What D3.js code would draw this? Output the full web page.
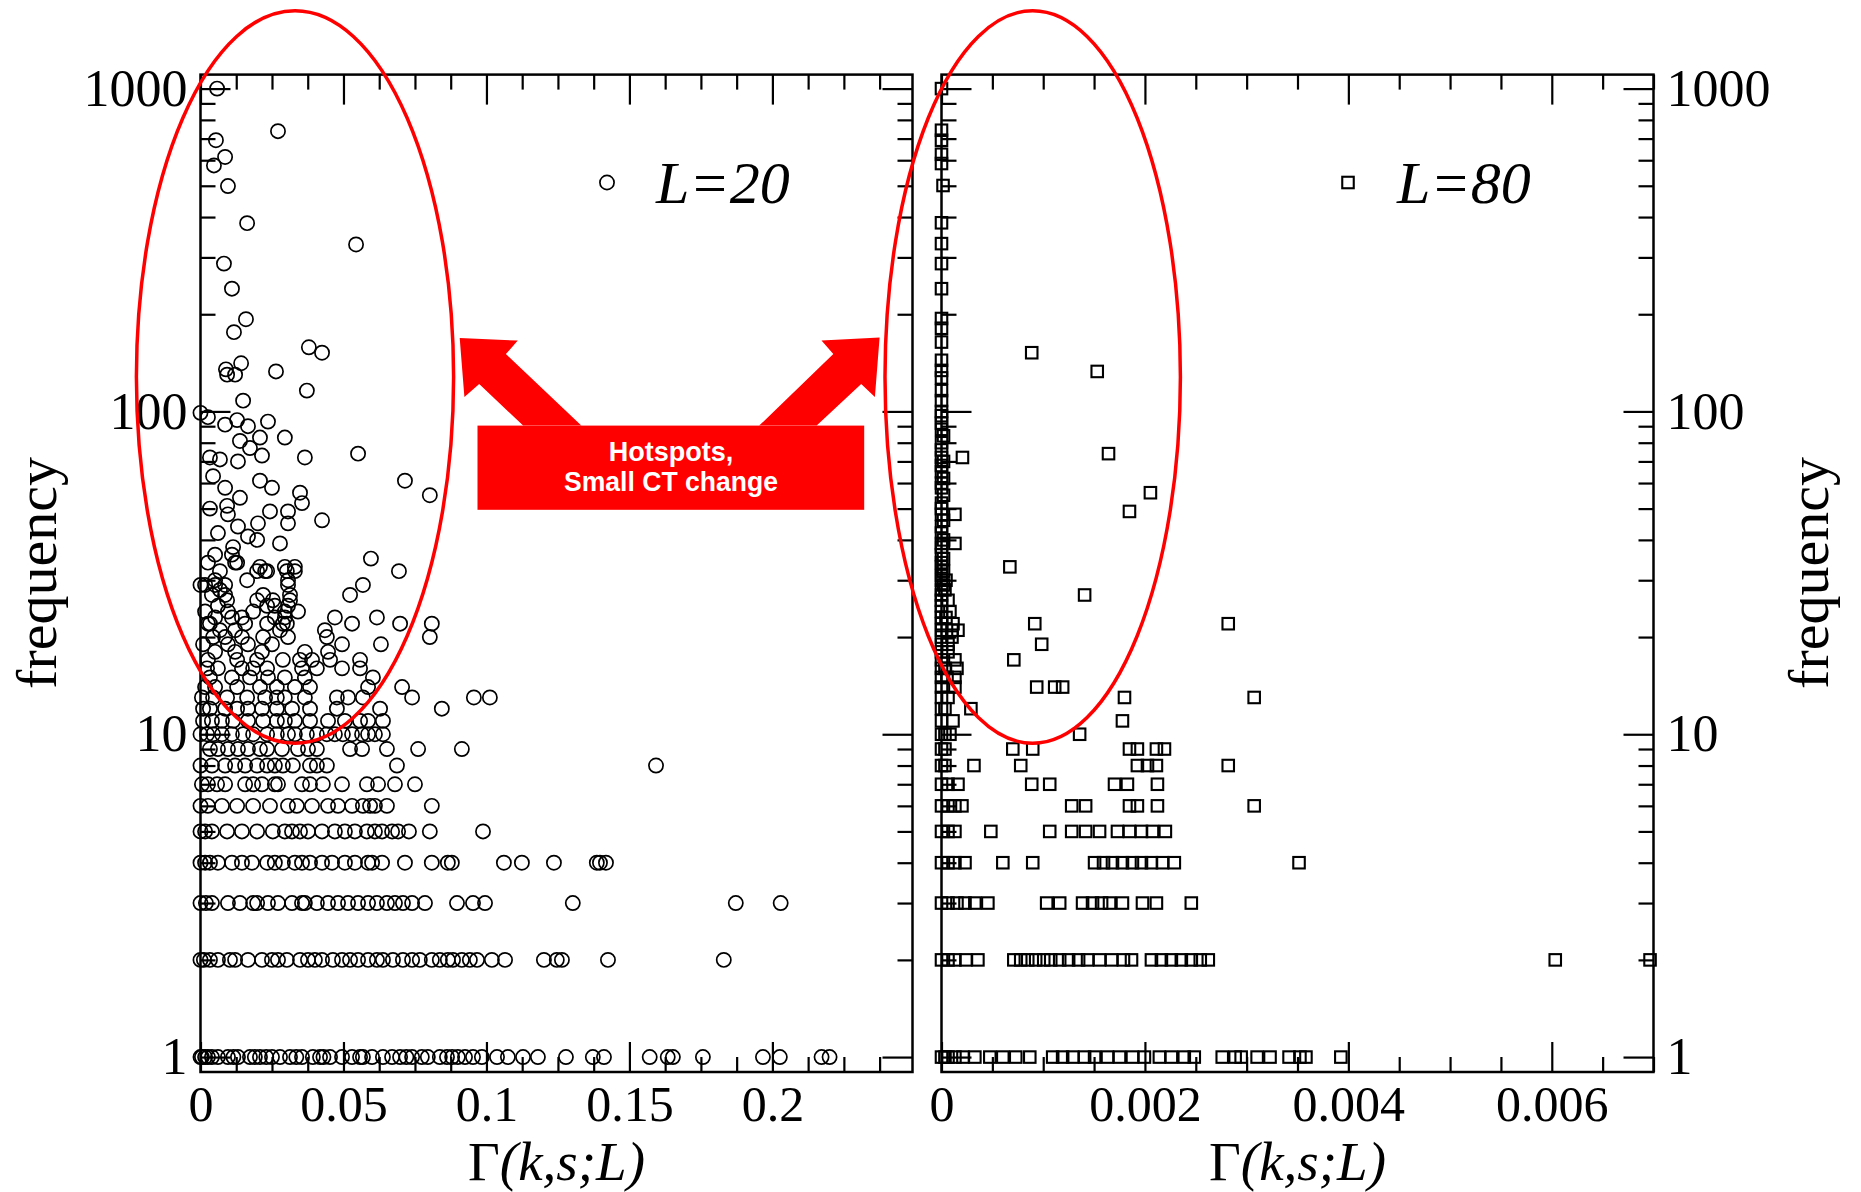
<!DOCTYPE html>
<html>
<head>
<meta charset="utf-8">
<script src="https://cdn.jsdelivr.net/npm/d3@7"></script>
<style>
  body { margin: 0; background: #fff; }
</style>
</head>
<body>
<div id="chart"></div>
<script>
// ---- data ----
const yTickMajor = [1, 10, 100, 1000];
const l20TickMajor = [0, 0.05, 0.1, 0.15, 0.2];
const l20TickLabels = ["0", "0.05", "0.1", "0.15", "0.2"];
const l80TickMajor = [0, 0.002, 0.004, 0.006];
const l80TickLabels = ["0", "0.002", "0.004", "0.006"];

// L=20 : [frequency, [Gamma values]]
const l20Rows = [
  [1, [0, 0.0005, 0.0016, 0.0026, 0.004, 0.0061, 0.0096, 0.0115, 0.0131, 0.0173, 0.019, 0.0208, 0.023, 0.025, 0.0278, 0.0313, 0.0335, 0.0355, 0.0393, 0.0418, 0.043, 0.0453, 0.0495, 0.053, 0.0558, 0.0568, 0.06, 0.0638, 0.067, 0.0698, 0.072, 0.074, 0.0774, 0.0795, 0.0837, 0.0862, 0.088, 0.09, 0.0925, 0.0953, 0.0984, 0.1037, 0.1075, 0.1128, 0.118, 0.1278, 0.1372, 0.1411, 0.1571, 0.1634, 0.1652, 0.1757, 0.1967, 0.2026, 0.2172, 0.22]],
  [2, [0, 0.0012, 0.0033, 0.0061, 0.0103, 0.0121, 0.0166, 0.0215, 0.025, 0.0271, 0.0302, 0.0348, 0.0376, 0.04, 0.0425, 0.0463, 0.0495, 0.0523, 0.0551, 0.0586, 0.0617, 0.0638, 0.0673, 0.0708, 0.074, 0.0767, 0.0809, 0.0837, 0.0865, 0.0883, 0.0914, 0.0942, 0.0967, 0.1019, 0.1065, 0.1201, 0.1246, 0.1264, 0.1425, 0.183]],
  [3, [0, 0.0019, 0.004, 0.0096, 0.0138, 0.0184, 0.0198, 0.0236, 0.0271, 0.032, 0.0355, 0.0365, 0.0407, 0.0446, 0.0481, 0.0516, 0.0551, 0.0586, 0.0617, 0.0652, 0.068, 0.0708, 0.074, 0.0785, 0.0897, 0.0953, 0.0995, 0.1302, 0.1872, 0.2029]],
  [4, [0, 0.0016, 0.0033, 0.0061, 0.011, 0.0145, 0.018, 0.0233, 0.026, 0.0288, 0.033, 0.0355, 0.0383, 0.0425, 0.046, 0.0505, 0.054, 0.0586, 0.06, 0.0635, 0.0715, 0.0809, 0.0865, 0.0879, 0.1061, 0.1124, 0.1236, 0.1386, 0.1397, 0.1418]],
  [5, [0, 0.0016, 0.004, 0.0093, 0.0145, 0.0198, 0.0253, 0.0295, 0.032, 0.0348, 0.0376, 0.0425, 0.047, 0.0505, 0.054, 0.0582, 0.061, 0.0635, 0.067, 0.0691, 0.0729, 0.0802, 0.0988]],
  [6, [0, 0.0026, 0.0075, 0.0128, 0.0184, 0.0243, 0.0306, 0.0337, 0.039, 0.0446, 0.0481, 0.053, 0.0568, 0.0593, 0.061, 0.0652, 0.0809]],
  [7, [0.0005, 0.0026, 0.0058, 0.0086, 0.0156, 0.0184, 0.0215, 0.026, 0.0271, 0.0355, 0.0383, 0.0428, 0.0495, 0.0582, 0.0621, 0.068, 0.075]],
  [8, [0, 0.004, 0.0086, 0.0121, 0.0156, 0.0198, 0.0233, 0.026, 0.0288, 0.0323, 0.0383, 0.0407, 0.0442, 0.0687, 0.1593]],
  [9, [0.0033, 0.0061, 0.0096, 0.0131, 0.0166, 0.0208, 0.0233, 0.0285, 0.0341, 0.0376, 0.0407, 0.0523, 0.0565, 0.0652, 0.0761, 0.0914]],
  [10, [0, 0.0023, 0.0044, 0.0075, 0.011, 0.0149, 0.0184, 0.0233, 0.0267, 0.0306, 0.033, 0.0372, 0.0407, 0.0442, 0.047, 0.0498, 0.053, 0.0565, 0.0586, 0.061, 0.0638]],
  [11, [0.0009, 0.004, 0.0075, 0.0114, 0.0166, 0.0219, 0.0267, 0.0295, 0.033, 0.0383, 0.0446, 0.0505, 0.0558, 0.0586, 0.0638]],
  [12, [0.0009, 0.0033, 0.0086, 0.0128, 0.0166, 0.0215, 0.0267, 0.032, 0.0383, 0.0477, 0.0628, 0.0844]],
  [13, [0.0005, 0.0044, 0.0093, 0.0163, 0.0226, 0.0267, 0.0295, 0.0365, 0.0477, 0.0516, 0.0568, 0.074, 0.0956, 0.1012]],
  [14, [0.0016, 0.0051, 0.0128, 0.0208, 0.0267, 0.033, 0.0383, 0.0586, 0.0705]],
  [15, [0.0033, 0.011, 0.0173, 0.0236, 0.0295, 0.0365, 0.0603]],
  [16, [0.0023, 0.0061, 0.0145, 0.0184, 0.0233, 0.0355, 0.0407, 0.0495, 0.0558]],
  [17, [0.0026, 0.0128, 0.0198, 0.0288, 0.0348, 0.039, 0.0453, 0.0558]],
  [18, [0.0051, 0.0121, 0.0215, 0.0365, 0.0446]],
  [19, [0.0009, 0.0096, 0.0166, 0.025, 0.0495, 0.0631]],
  [20, [0.0044, 0.0086, 0.0145, 0.0219, 0.0306, 0.0442, 0.0802]],
  [21, [0.0068, 0.0121, 0.0278, 0.0435]],
  [22, [0.0026, 0.0033, 0.0156, 0.0233, 0.0288, 0.0302, 0.053, 0.0698, 0.0809]],
  [23, [0.0051, 0.011, 0.0145, 0.026, 0.0295, 0.047, 0.0617]],
  [24, [0.0016, 0.0096, 0.0184, 0.0295, 0.0341]],
  [25, [0.0061, 0.0233, 0.026, 0.0306]],
  [26, [0.0093, 0.0198, 0.0253, 0.0313]],
  [27, [0.004, 0.0086, 0.0219, 0.0313, 0.0523]],
  [28, [0.0068]],
  [29, [0, 0.0016, 0.0051, 0.0086, 0.0306, 0.0568]],
  [30, [0.0051, 0.0163, 0.0306]],
  [32, [0.0068, 0.0198, 0.0226, 0.0233, 0.0302, 0.033, 0.0694]],
  [33, [0.0208, 0.0295, 0.033]],
  [34, [0.0026, 0.0121, 0.0128]],
  [35, [0.0596]],
  [36, [0.0051, 0.011]],
  [38, [0.0114]],
  [39, [0.0278]],
  [40, [0.0198]],
  [41, [0.0166]],
  [42, [0.0061]],
  [44, [0.0131]],
  [45, [0.0201, 0.0306]],
  [46, [0.0425]],
  [48, [0.0096]],
  [49, [0.0243, 0.0306]],
  [50, [0.0033]],
  [51, [0.0093]],
  [52, [0.0355]],
  [54, [0.0138]],
  [55, [0.0802]],
  [56, [0.0348]],
  [58, [0.0086, 0.025]],
  [61, [0.0208, 0.0715]],
  [63, [0.0044]],
  [70, [0.0131]],
  [71, [0.0068]],
  [72, [0.0033, 0.0365]],
  [73, [0.0215]],
  [74, [0.0551]],
  [77, [0.0173]],
  [81, [0.0138]],
  [83, [0.0208, 0.0295]],
  [90, [0.0166]],
  [91, [0.0086]],
  [93, [0.0236]],
  [94, [0.0128]],
  [96, [0.0026]],
  [99, [0]],
  [108, [0.0149]],
  [116, [0.0372]],
  [130, [0.0093, 0.0121]],
  [133, [0.0264]],
  [135, [0.0089]],
  [141, [0.0142]],
  [152, [0.0425]],
  [158, [0.0379]],
  [176, [0.0117]],
  [193, [0.0159]],
  [240, [0.011]],
  [287, [0.0082]],
  [329, [0.0544]],
  [383, [0.0163]],
  [499, [0.0096]],
  [578, [0.0047]],
  [614, [0.0086]],
  [692, [0.0054]],
  [738, [0.0271]],
  [1000, [0.0058]]
];

// L=80 : [frequency, [Gamma values]]
const l80Rows = [
  [1, [0, 0.000034, 0.000064, 0.000132, 0.000211, 0.000328, 0.000475, 0.000603, 0.00073, 0.000868, 0.001093, 0.001191, 0.00129, 0.001407, 0.001505, 0.001632, 0.00175, 0.001877, 0.001995, 0.002142, 0.00226, 0.002387, 0.002485, 0.00276, 0.002887, 0.002946, 0.003103, 0.00323, 0.003417, 0.003524, 0.003583, 0.003926]],
  [2, [0, 0.000064, 0.000132, 0.00024, 0.000358, 0.000711, 0.000779, 0.000848, 0.000926, 0.001005, 0.001074, 0.001162, 0.00125, 0.001348, 0.001436, 0.001554, 0.001672, 0.001789, 0.001868, 0.002064, 0.002162, 0.00226, 0.002358, 0.002456, 0.002544, 0.002623, 0.006034, 0.006966]],
  [3, [0, 0.000064, 0.000152, 0.000231, 0.000328, 0.000456, 0.001034, 0.001162, 0.001387, 0.001485, 0.001574, 0.001652, 0.001779, 0.001976, 0.002113, 0.002456]],
  [4, [0, 0.000064, 0.000132, 0.000231, 0.000603, 0.000897, 0.001505, 0.001593, 0.001681, 0.001779, 0.001877, 0.001966, 0.002064, 0.002172, 0.002289, 0.003515]],
  [5, [0, 0.000064, 0.000132, 0.000485, 0.001064, 0.00128, 0.001417, 0.001554, 0.00173, 0.001848, 0.001966, 0.002074, 0.002201]],
  [6, [0, 0.000064, 0.000132, 0.000201, 0.00128, 0.001417, 0.001848, 0.001926, 0.002123, 0.003074]],
  [7, [0, 0.000064, 0.000162, 0.000887, 0.001064, 0.001701, 0.001828, 0.002123]],
  [8, [0, 0.000034, 0.000319, 0.000779, 0.001926, 0.002025, 0.002113, 0.002819]],
  [9, [0, 0.000034, 0.000701, 0.000897, 0.001848, 0.001926, 0.002113, 0.002192]],
  [10, [0, 0.000034, 0.000083, 0.001358]],
  [11, [0, 0.000113, 0.001779]],
  [12, [0, 0.000034, 0.000289]],
  [13, [0, 0.000064, 0.001799, 0.003074]],
  [14, [0, 0.000132, 0.000936, 0.001113, 0.001191]],
  [15, [0, 0.000054, 0.000132]],
  [16, [0, 0.000034, 0.000152]],
  [17, [0, 0.000132, 0.000711]],
  [18, [0, 0.000064]],
  [19, [0, 0.000064, 0.000985]],
  [20, [0, 0.000103]],
  [21, [0, 0.000103, 0.000162]],
  [22, [0, 0.000113, 0.000917, 0.002819]],
  [23, [0, 0.000044]],
  [24, [0, 0.000083]],
  [25, [0]],
  [26, [0, 0.000064]],
  [27, [0, 0.001407]],
  [28, [0, 0.000034]],
  [29, [0.00002]],
  [30, [0, 0.000044]],
  [31, [0]],
  [32, [0.00002]],
  [33, [0, 0.000672]],
  [34, [0]],
  [35, [0.00002]],
  [36, [0]],
  [38, [0]],
  [39, [0, 0.000132]],
  [40, [0.00002]],
  [42, [0]],
  [44, [0]],
  [46, [0.00002]],
  [48, [0, 0.000132]],
  [49, [0.001848]],
  [50, [0]],
  [52, [0]],
  [55, [0.00002]],
  [56, [0.002054]],
  [58, [0]],
  [60, [0]],
  [62, [0.00002]],
  [65, [0]],
  [68, [0]],
  [70, [0.00002]],
  [72, [0, 0.000206]],
  [74, [0.001642]],
  [76, [0]],
  [80, [0]],
  [84, [0.00002]],
  [88, [0]],
  [92, [0]],
  [97, [0]],
  [100, [0]],
  [108, [0]],
  [116, [0]],
  [127, [0]],
  [133, [0.001531]],
  [134, [0]],
  [144, [0]],
  [152, [0.000887]],
  [164, [0]],
  [181, [0]],
  [194, [0]],
  [240, [0]],
  [287, [0]],
  [331, [0]],
  [384, [0]],
  [501, [0.000015]],
  [586, [0]],
  [626, [0]],
  [692, [0]],
  [743, [0]],
  [1000, [0]]
];

// ---- layout ----
const width = 1861, height = 1192;
const plotTop = 74.6, plotBottom = 1072;
const serif = '"Liberation Serif", "Times New Roman", Times, serif';

const svg = d3.select("#chart").append("svg")
    .attr("width", width)
    .attr("height", height)
    .style("background-color", "#fff");

const y = d3.scaleLog().domain([0.899, 1105]).range([plotBottom, plotTop]);
const xL = d3.scaleLinear().domain([0, 0.249]).range([200.5, 912.5]);
const xR = d3.scaleLinear().domain([0, 0.007]).range([941.5, 1653.5]);

// minor log ticks 2..9 in each decade
const yTickMinor = [1, 10, 100].flatMap(d => d3.range(2, 10).map(k => k * d));

function styleAxis(g, showLabels, size) {
    g.select(".domain").remove();
    g.selectAll(".tick line").attr("stroke", "#000").attr("stroke-width", 2.2);
    g.attr("font-family", serif).attr("font-size", size || 50);
    g.selectAll(".tick text").attr("fill", "#000");
    if (!showLabels) g.selectAll(".tick text").remove();
}

function drawPanel(x, majors, labels, minorStep, leftLabels, rightLabels) {
    const [x0, x1] = x.range();
    const xMinor = d3.range(0, x.domain()[1] + 1e-12, minorStep)
        .filter(v => !majors.some(m => Math.abs(m - v) < minorStep / 10));

    // bottom axis (ticks inward)
    svg.append("g").attr("transform", `translate(0,${plotBottom})`)
        .call(d3.axisBottom(x).tickValues(xMinor).tickSizeInner(-15).tickSizeOuter(0))
        .call(g => styleAxis(g, false));
    svg.append("g").attr("transform", `translate(0,${plotBottom})`)
        .call(d3.axisBottom(x).tickValues(majors).tickSizeInner(-30).tickSizeOuter(0)
            .tickPadding(13).tickFormat((d, i) => labels[i]))
        .call(g => styleAxis(g, true, 50));
    // top axis
    svg.append("g").attr("transform", `translate(0,${plotTop})`)
        .call(d3.axisTop(x).tickValues(xMinor).tickSizeInner(-15).tickSizeOuter(0))
        .call(g => styleAxis(g, false));
    svg.append("g").attr("transform", `translate(0,${plotTop})`)
        .call(d3.axisTop(x).tickValues(majors).tickSizeInner(-30).tickSizeOuter(0))
        .call(g => styleAxis(g, false));
    // left axis
    svg.append("g").attr("transform", `translate(${x0},0)`)
        .call(d3.axisLeft(y).tickValues(yTickMinor).tickSizeInner(-15).tickSizeOuter(0))
        .call(g => styleAxis(g, false));
    svg.append("g").attr("transform", `translate(${x0},0)`)
        .call(d3.axisLeft(y).tickValues(yTickMajor).tickSizeInner(-30).tickSizeOuter(0)
            .tickPadding(13).tickFormat(d => String(d)))
        .call(g => styleAxis(g, leftLabels, 52));
    // right axis
    svg.append("g").attr("transform", `translate(${x1},0)`)
        .call(d3.axisRight(y).tickValues(yTickMinor).tickSizeInner(-15).tickSizeOuter(0))
        .call(g => styleAxis(g, false));
    svg.append("g").attr("transform", `translate(${x1},0)`)
        .call(d3.axisRight(y).tickValues(yTickMajor).tickSizeInner(-30).tickSizeOuter(0)
            .tickPadding(13).tickFormat(d => String(d)))
        .call(g => styleAxis(g, rightLabels, 52));

    // frame
    svg.append("rect")
        .attr("x", x0).attr("y", plotTop)
        .attr("width", x1 - x0).attr("height", plotBottom - plotTop)
        .attr("fill", "none").attr("stroke", "#000").attr("stroke-width", 2.5);

    // x title
    const t = svg.append("text")
        .attr("x", (x0 + x1) / 2).attr("y", 1180)
        .attr("text-anchor", "middle")
        .attr("font-family", serif).attr("font-size", 55);
    t.append("tspan").text("Γ");
    t.append("tspan").attr("font-style", "italic").text("(k,s;L)");
}

const flatten = rows => rows.flatMap(([f, gs]) => gs.map(g => ({ g: g, f: f })));

// L=20 circles
svg.append("g").selectAll("circle")
    .data(flatten(l20Rows))
    .join("circle")
    .attr("cx", d => xL(d.g))
    .attr("cy", d => y(d.f))
    .attr("r", 7.1)
    .attr("fill", "none")
    .attr("stroke", "#000")
    .attr("stroke-width", 1.7);

// L=80 squares
const sq = 11.5;
svg.append("g").selectAll("rect")
    .data(flatten(l80Rows))
    .join("rect")
    .attr("x", d => xR(d.g) - sq / 2)
    .attr("y", d => y(d.f) - sq / 2)
    .attr("width", sq).attr("height", sq)
    .attr("fill", "none")
    .attr("stroke", "#000")
    .attr("stroke-width", 2.1);

drawPanel(xL, l20TickMajor, l20TickLabels, 0.0125, true, false);
drawPanel(xR, l80TickMajor, l80TickLabels, 0.0005, false, true);

// y titles
[56, 1828].forEach(px => {
    svg.append("text")
        .attr("transform", `translate(${px},573) rotate(-90)`)
        .attr("text-anchor", "middle")
        .attr("font-family", serif).attr("font-size", 58)
        .text("frequency");
});

// legends
svg.append("circle").attr("cx", 607).attr("cy", 182.5).attr("r", 7.1)
    .attr("fill", "none").attr("stroke", "#000").attr("stroke-width", 1.7);
svg.append("text").attr("x", 656).attr("y", 203)
    .attr("font-family", serif).attr("font-size", 60).attr("font-style", "italic")
    .text("L=20");
svg.append("rect").attr("x", 1348 - sq / 2).attr("y", 182.5 - sq / 2)
    .attr("width", sq).attr("height", sq)
    .attr("fill", "none").attr("stroke", "#000").attr("stroke-width", 2.1);
svg.append("text").attr("x", 1397).attr("y", 203)
    .attr("font-family", serif).attr("font-size", 60).attr("font-style", "italic")
    .text("L=80");

// ---- annotation: red ellipses, arrows and box ----
const red = "#ff0000";
svg.append("ellipse").attr("cx", 295).attr("cy", 377).attr("rx", 158.6).attr("ry", 366.3)
    .attr("fill", "none").attr("stroke", red).attr("stroke-width", 3.5);
svg.append("ellipse").attr("cx", 1032.7).attr("cy", 377).attr("rx", 147.7).attr("ry", 366.3)
    .attr("fill", "none").attr("stroke", red).attr("stroke-width", 3.5);

const arrowLeft = [[459.7, 337.9], [517.8, 340.6], [505.9, 354], [581.3, 425.6],
    [523.1, 425.6], [479.2, 383.9], [464.4, 396.9]];
const arrowRight = [[879.6, 337.5], [821.5, 340.6], [833.3, 354], [759.2, 425.6],
    [816.7, 425.6], [861.2, 383.9], [874.9, 396.9]];
[arrowLeft, arrowRight].forEach(p => {
    svg.append("polygon").attr("points", p.map(q => q.join(",")).join(" "))
        .attr("fill", red);
});
svg.append("rect").attr("x", 477.5).attr("y", 425.6)
    .attr("width", 386.7).attr("height", 84.2).attr("fill", red);

const sans = '"Liberation Sans", Arial, Helvetica, sans-serif';
svg.append("text").attr("x", 671).attr("y", 461)
    .attr("text-anchor", "middle").attr("font-family", sans)
    .attr("font-weight", "bold").attr("font-size", 27).attr("fill", "#fff")
    .text("Hotspots,");
svg.append("text").attr("x", 671).attr("y", 490.5)
    .attr("text-anchor", "middle").attr("font-family", sans)
    .attr("font-weight", "bold").attr("font-size", 27).attr("fill", "#fff")
    .attr("textLength", 214).attr("lengthAdjust", "spacingAndGlyphs")
    .text("Small CT change");
</script>
</body>
</html>
